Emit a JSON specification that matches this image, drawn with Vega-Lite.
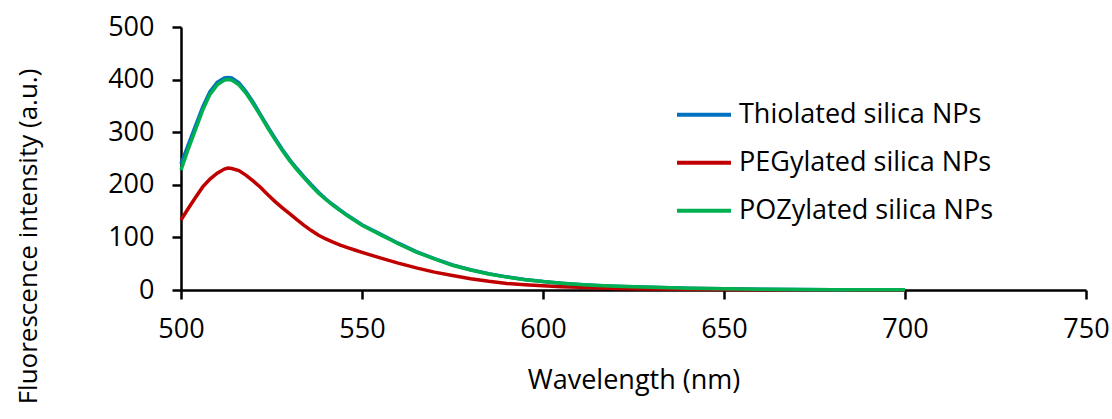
{
  "$schema": "https://vega.github.io/schema/vega-lite/v6.json",
  "autosize": "none",
  "width": 905,
  "height": 263,
  "padding": {"left": 181, "top": 27, "right": 26, "bottom": 129},
  "background": "white",
  "config": {
    "view": {"stroke": null},
    "font": "Open Sans",
    "axis": {"grid": false, "domainColor": "black", "tickColor": "black", "domainWidth": 2.5, "tickWidth": 2.5, "tickSize": 9, "labelColor": "black", "titleColor": "black", "labelFont": "Open Sans", "titleFont": "Open Sans", "labelFontSize": 27, "titleFontSize": 27, "titleFontWeight": "normal"}
  },
  "data": {
    "values": [
      {"wl": 500, "s": "Thiolated silica NPs", "v": 240}, {"wl": 502, "s": "Thiolated silica NPs", "v": 276}, {"wl": 504, "s": "Thiolated silica NPs", "v": 312}, {"wl": 506, "s": "Thiolated silica NPs", "v": 348}, {"wl": 508, "s": "Thiolated silica NPs", "v": 377}, {"wl": 510, "s": "Thiolated silica NPs", "v": 395}, {"wl": 512, "s": "Thiolated silica NPs", "v": 403}, {"wl": 513, "s": "Thiolated silica NPs", "v": 404}, {"wl": 514, "s": "Thiolated silica NPs", "v": 403}, {"wl": 516, "s": "Thiolated silica NPs", "v": 394}, {"wl": 518, "s": "Thiolated silica NPs", "v": 377}, {"wl": 520, "s": "Thiolated silica NPs", "v": 356}, {"wl": 522, "s": "Thiolated silica NPs", "v": 333}, {"wl": 524, "s": "Thiolated silica NPs", "v": 310}, {"wl": 526, "s": "Thiolated silica NPs", "v": 288}, {"wl": 528, "s": "Thiolated silica NPs", "v": 267}, {"wl": 530, "s": "Thiolated silica NPs", "v": 248}, {"wl": 532, "s": "Thiolated silica NPs", "v": 231}, {"wl": 534, "s": "Thiolated silica NPs", "v": 215}, {"wl": 536, "s": "Thiolated silica NPs", "v": 200}, {"wl": 538, "s": "Thiolated silica NPs", "v": 186}, {"wl": 540, "s": "Thiolated silica NPs", "v": 173}, {"wl": 542, "s": "Thiolated silica NPs", "v": 162}, {"wl": 544, "s": "Thiolated silica NPs", "v": 152}, {"wl": 546, "s": "Thiolated silica NPs", "v": 142}, {"wl": 548, "s": "Thiolated silica NPs", "v": 133}, {"wl": 550, "s": "Thiolated silica NPs", "v": 124}, {"wl": 552, "s": "Thiolated silica NPs", "v": 117}, {"wl": 554, "s": "Thiolated silica NPs", "v": 110}, {"wl": 556, "s": "Thiolated silica NPs", "v": 103}, {"wl": 558, "s": "Thiolated silica NPs", "v": 96}, {"wl": 560, "s": "Thiolated silica NPs", "v": 89}, {"wl": 565, "s": "Thiolated silica NPs", "v": 73}, {"wl": 570, "s": "Thiolated silica NPs", "v": 59.5}, {"wl": 575, "s": "Thiolated silica NPs", "v": 47.5}, {"wl": 580, "s": "Thiolated silica NPs", "v": 38.5}, {"wl": 585, "s": "Thiolated silica NPs", "v": 31}, {"wl": 590, "s": "Thiolated silica NPs", "v": 25}, {"wl": 595, "s": "Thiolated silica NPs", "v": 20}, {"wl": 600, "s": "Thiolated silica NPs", "v": 16}, {"wl": 605, "s": "Thiolated silica NPs", "v": 13}, {"wl": 610, "s": "Thiolated silica NPs", "v": 10.5}, {"wl": 615, "s": "Thiolated silica NPs", "v": 8.5}, {"wl": 620, "s": "Thiolated silica NPs", "v": 7}, {"wl": 625, "s": "Thiolated silica NPs", "v": 6}, {"wl": 630, "s": "Thiolated silica NPs", "v": 5}, {"wl": 640, "s": "Thiolated silica NPs", "v": 3.2}, {"wl": 650, "s": "Thiolated silica NPs", "v": 2.2}, {"wl": 660, "s": "Thiolated silica NPs", "v": 1.5}, {"wl": 670, "s": "Thiolated silica NPs", "v": 1}, {"wl": 680, "s": "Thiolated silica NPs", "v": 0.7}, {"wl": 690, "s": "Thiolated silica NPs", "v": 0.5}, {"wl": 700, "s": "Thiolated silica NPs", "v": 0.3},
      {"wl": 500, "s": "PEGylated silica NPs", "v": 133}, {"wl": 502, "s": "PEGylated silica NPs", "v": 155}, {"wl": 504, "s": "PEGylated silica NPs", "v": 176}, {"wl": 506, "s": "PEGylated silica NPs", "v": 196}, {"wl": 508, "s": "PEGylated silica NPs", "v": 211}, {"wl": 510, "s": "PEGylated silica NPs", "v": 222}, {"wl": 512, "s": "PEGylated silica NPs", "v": 230}, {"wl": 513, "s": "PEGylated silica NPs", "v": 232}, {"wl": 514, "s": "PEGylated silica NPs", "v": 231}, {"wl": 516, "s": "PEGylated silica NPs", "v": 227}, {"wl": 518, "s": "PEGylated silica NPs", "v": 218}, {"wl": 520, "s": "PEGylated silica NPs", "v": 207}, {"wl": 522, "s": "PEGylated silica NPs", "v": 195}, {"wl": 524, "s": "PEGylated silica NPs", "v": 181}, {"wl": 526, "s": "PEGylated silica NPs", "v": 168}, {"wl": 528, "s": "PEGylated silica NPs", "v": 156}, {"wl": 530, "s": "PEGylated silica NPs", "v": 145}, {"wl": 532, "s": "PEGylated silica NPs", "v": 134}, {"wl": 534, "s": "PEGylated silica NPs", "v": 123}, {"wl": 536, "s": "PEGylated silica NPs", "v": 113}, {"wl": 538, "s": "PEGylated silica NPs", "v": 104}, {"wl": 540, "s": "PEGylated silica NPs", "v": 97}, {"wl": 542, "s": "PEGylated silica NPs", "v": 91}, {"wl": 544, "s": "PEGylated silica NPs", "v": 85.5}, {"wl": 546, "s": "PEGylated silica NPs", "v": 80.5}, {"wl": 548, "s": "PEGylated silica NPs", "v": 76}, {"wl": 550, "s": "PEGylated silica NPs", "v": 71.5}, {"wl": 555, "s": "PEGylated silica NPs", "v": 61}, {"wl": 560, "s": "PEGylated silica NPs", "v": 51}, {"wl": 565, "s": "PEGylated silica NPs", "v": 42}, {"wl": 570, "s": "PEGylated silica NPs", "v": 34}, {"wl": 575, "s": "PEGylated silica NPs", "v": 27.5}, {"wl": 580, "s": "PEGylated silica NPs", "v": 21.5}, {"wl": 585, "s": "PEGylated silica NPs", "v": 16.5}, {"wl": 590, "s": "PEGylated silica NPs", "v": 12.5}, {"wl": 595, "s": "PEGylated silica NPs", "v": 10}, {"wl": 600, "s": "PEGylated silica NPs", "v": 8}, {"wl": 605, "s": "PEGylated silica NPs", "v": 6.2}, {"wl": 610, "s": "PEGylated silica NPs", "v": 5}, {"wl": 620, "s": "PEGylated silica NPs", "v": 3}, {"wl": 630, "s": "PEGylated silica NPs", "v": 2}, {"wl": 640, "s": "PEGylated silica NPs", "v": 1.4}, {"wl": 650, "s": "PEGylated silica NPs", "v": 1}, {"wl": 660, "s": "PEGylated silica NPs", "v": 0.7}, {"wl": 670, "s": "PEGylated silica NPs", "v": 0.5}, {"wl": 680, "s": "PEGylated silica NPs", "v": 0.3}, {"wl": 690, "s": "PEGylated silica NPs", "v": 0.2}, {"wl": 700, "s": "PEGylated silica NPs", "v": 0.1},
      {"wl": 500, "s": "POZylated silica NPs", "v": 228}, {"wl": 502, "s": "POZylated silica NPs", "v": 268}, {"wl": 504, "s": "POZylated silica NPs", "v": 305}, {"wl": 506, "s": "POZylated silica NPs", "v": 342}, {"wl": 508, "s": "POZylated silica NPs", "v": 372}, {"wl": 510, "s": "POZylated silica NPs", "v": 390}, {"wl": 512, "s": "POZylated silica NPs", "v": 399}, {"wl": 513, "s": "POZylated silica NPs", "v": 400}, {"wl": 514, "s": "POZylated silica NPs", "v": 399}, {"wl": 516, "s": "POZylated silica NPs", "v": 390}, {"wl": 518, "s": "POZylated silica NPs", "v": 374}, {"wl": 520, "s": "POZylated silica NPs", "v": 353}, {"wl": 522, "s": "POZylated silica NPs", "v": 331}, {"wl": 524, "s": "POZylated silica NPs", "v": 308}, {"wl": 526, "s": "POZylated silica NPs", "v": 286}, {"wl": 528, "s": "POZylated silica NPs", "v": 265}, {"wl": 530, "s": "POZylated silica NPs", "v": 246}, {"wl": 532, "s": "POZylated silica NPs", "v": 229}, {"wl": 534, "s": "POZylated silica NPs", "v": 213}, {"wl": 536, "s": "POZylated silica NPs", "v": 198}, {"wl": 538, "s": "POZylated silica NPs", "v": 184}, {"wl": 540, "s": "POZylated silica NPs", "v": 172}, {"wl": 542, "s": "POZylated silica NPs", "v": 161}, {"wl": 544, "s": "POZylated silica NPs", "v": 151}, {"wl": 546, "s": "POZylated silica NPs", "v": 141}, {"wl": 548, "s": "POZylated silica NPs", "v": 132}, {"wl": 550, "s": "POZylated silica NPs", "v": 123}, {"wl": 552, "s": "POZylated silica NPs", "v": 116}, {"wl": 554, "s": "POZylated silica NPs", "v": 109}, {"wl": 556, "s": "POZylated silica NPs", "v": 102}, {"wl": 558, "s": "POZylated silica NPs", "v": 95}, {"wl": 560, "s": "POZylated silica NPs", "v": 88}, {"wl": 565, "s": "POZylated silica NPs", "v": 72}, {"wl": 570, "s": "POZylated silica NPs", "v": 59}, {"wl": 575, "s": "POZylated silica NPs", "v": 47}, {"wl": 580, "s": "POZylated silica NPs", "v": 38}, {"wl": 585, "s": "POZylated silica NPs", "v": 30.5}, {"wl": 590, "s": "POZylated silica NPs", "v": 24.5}, {"wl": 595, "s": "POZylated silica NPs", "v": 19.5}, {"wl": 600, "s": "POZylated silica NPs", "v": 16}, {"wl": 605, "s": "POZylated silica NPs", "v": 13}, {"wl": 610, "s": "POZylated silica NPs", "v": 10.5}, {"wl": 615, "s": "POZylated silica NPs", "v": 8.5}, {"wl": 620, "s": "POZylated silica NPs", "v": 7}, {"wl": 625, "s": "POZylated silica NPs", "v": 6}, {"wl": 630, "s": "POZylated silica NPs", "v": 5}, {"wl": 640, "s": "POZylated silica NPs", "v": 3.2}, {"wl": 650, "s": "POZylated silica NPs", "v": 2.2}, {"wl": 660, "s": "POZylated silica NPs", "v": 1.5}, {"wl": 670, "s": "POZylated silica NPs", "v": 1}, {"wl": 680, "s": "POZylated silica NPs", "v": 0.7}, {"wl": 690, "s": "POZylated silica NPs", "v": 0.5}, {"wl": 700, "s": "POZylated silica NPs", "v": 0.3}
    ]
  },
  "mark": {"type": "line", "strokeWidth": 3.5, "clip": false},
  "encoding": {
    "x": {
      "field": "wl", "type": "quantitative",
      "scale": {"domain": [500, 750], "nice": false, "zero": false},
      "axis": {"title": "Wavelength (nm)", "values": [500, 550, 600, 650, 700, 750], "labelPadding": 17, "titleY": 90, "titleBaseline": "middle", "labelFlush": false}
    },
    "y": {
      "field": "v", "type": "quantitative",
      "scale": {"domain": [0, 500], "nice": false},
      "axis": {"title": "Fluorescence intensity (a.u.)", "values": [0, 100, 200, 300, 400, 500], "labelPadding": 18, "titleX": -153, "titleY": 209, "titleAlign": "center", "titleBaseline": "middle", "titleAngle": -90, "titleFontSize": 26}
    },
    "color": {
      "field": "s", "type": "nominal",
      "scale": {"domain": ["Thiolated silica NPs", "PEGylated silica NPs", "POZylated silica NPs"], "range": ["#0070C0", "#C00000", "#00B050"]},
      "legend": {"title": null, "orient": "none", "legendX": 494, "legendY": 64, "symbolType": "stroke", "symbolSize": 2916, "symbolStrokeWidth": 4, "labelFontSize": 27, "labelFont": "Open Sans", "labelColor": "black", "labelOffset": 6, "labelLimit": 0, "clipHeight": 47.5, "rowPadding": 0, "padding": 0}
    }
  }
}
